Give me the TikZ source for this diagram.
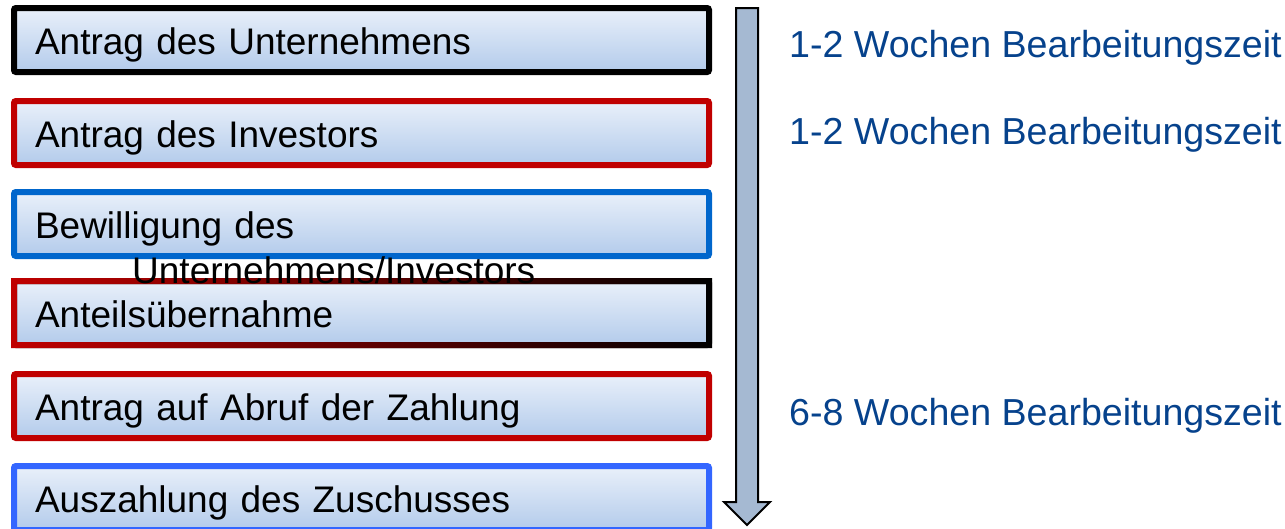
\documentclass[tikz,border=0pt]{standalone}
\usepackage{fontspec}
\setmainfont{Liberation Sans}
\usetikzlibrary{shadows}
\tikzstyle{sheet} = [x = 1pt, y = -1pt, every node/.style={font=\fontsize{37}{44}\selectfont}]
\definecolor{boxTop}{RGB}{233,240,250}
\definecolor{boxBottom}{RGB}{179,203,235}
\definecolor{boxRed}{RGB}{192,0,0}
\definecolor{boxBlue}{RGB}{0,102,204}
\definecolor{boxLightBlue}{RGB}{51,102,255}
\definecolor{arrowFill}{RGB}{165,185,210}
\definecolor{timeColor}{RGB}{6,66,140}
\tikzstyle{stepBoxStyle} = [rectangle, line width = 6pt, rounded corners = 2pt, top color = boxTop, bottom color = boxBottom, minimum width = 695pt, minimum height = 64pt, outer sep = 0pt, inner xsep = 21pt, inner ysep = 0pt, text width = 653pt, align = left, text height = 29.5pt, text depth = 0pt, drop shadow = {shadow xshift = 1.5pt, shadow yshift = -2.5pt, opacity = .35}]
\tikzstyle{arrowStyle} = [draw = black, fill = arrowFill, line width = 2pt]
\tikzstyle{timeStyle} = [anchor = west, inner sep = 0pt, text height = 26.5pt, text depth = 0pt, text = timeColor, font = \fontsize{37.6}{44}\selectfont]
\tikzstyle{overflowStyle} = [anchor = west, inner sep = 0pt, text height = 26.5pt, text depth = 0pt]
\newcommand{\stepBox}[4]{\node [stepBoxStyle, draw = #3] (#1) at (361.5, #2) {#4};}
\newcommand{\fadeBorder}[1]{\shade [left color = boxRed, middle color = boxRed!60!black, right color = black, even odd rule] ([shift = {(-3, -3)}]#1.north west) rectangle ([shift = {(3, 3)}]#1.south east) ([shift = {(3, 3)}]#1.north west) rectangle ([shift = {(-3, -3)}]#1.south east);}
\newcommand{\timeLabel}[3]{\node [timeStyle] (#1) at (789, #2) {#3};}

\begin{document}
\begin{tikzpicture}[sheet]
  \useasboundingbox (0, 0) rectangle (1285, 528);
  % steps
  \stepBox{companyApplication}{40}{black}{Antrag des Unternehmens}
  \stepBox{investorApplication}{133}{boxRed}{Antrag des Investors}
  \stepBox{approval}{224}{boxBlue}{Bewilligung des}
  \stepBox{shareTakeover}{313}{black}{Anteilsübernahme}
  \fadeBorder{shareTakeover}
  \stepBox{paymentRequest}{406}{boxRed}{Antrag auf Abruf der Zahlung}
  \stepBox{grantPayout}{498}{boxLightBlue}{Auszahlung des Zuschusses}
  \node [overflowStyle] (approvalMore) at (132, 270) {Unternehmens/Investors};
  % time line
  \draw [arrowStyle] (736, 8) -- (758, 8) -- (758, 502) -- (770, 502) -- (747, 525) -- (724, 502) -- (736, 502) -- cycle;
  \timeLabel{firstTime}{44.5}{1-2 Wochen Bearbeitungszeit}
  \timeLabel{secondTime}{131}{1-2 Wochen Bearbeitungszeit}
  \timeLabel{thirdTime}{412}{6-8 Wochen Bearbeitungszeit}
\end{tikzpicture}
\end{document}
